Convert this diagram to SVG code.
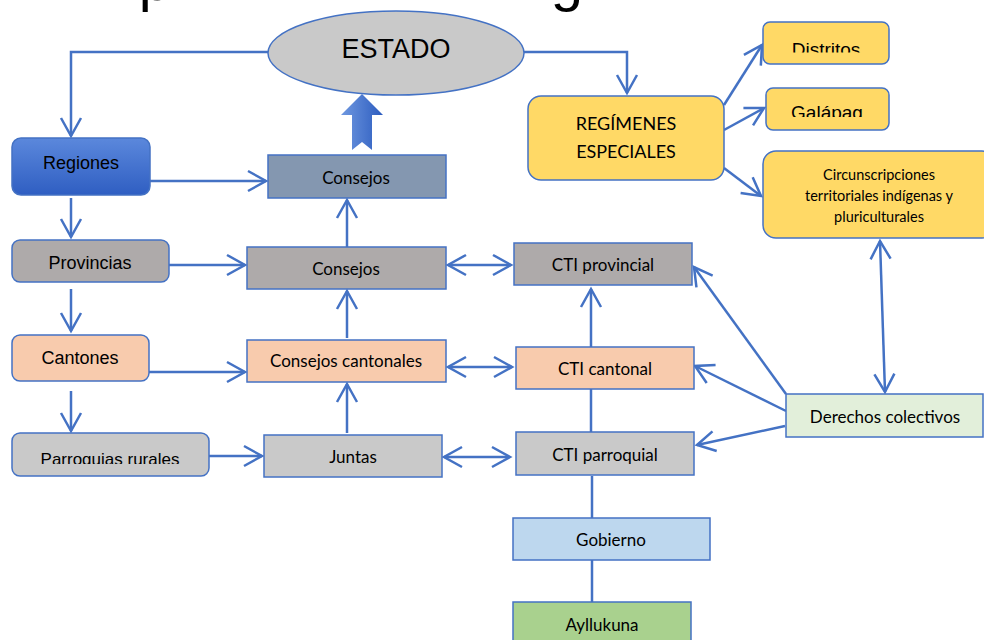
<svg xmlns="http://www.w3.org/2000/svg" width="984" height="640" viewBox="0 0 984 640">
<style>
.box{stroke:#4472c4;stroke-width:1.5}
.con{fill:none;stroke:#4472c4;stroke-width:2.5}
.a{font-family:"Liberation Sans",Arial,sans-serif;fill:#000;text-anchor:middle}
.c{font-family:Lato,"Open Sans",sans-serif;fill:#000;text-anchor:middle;font-size:17px}
.gray{fill:#aeaaaa}
.lgray{fill:#c9c9c9}
.peach{fill:#f8cbad}
.yel{fill:#ffd966}
</style>
<defs>
<marker id="arr" markerUnits="userSpaceOnUse" markerWidth="26" markerHeight="26" viewBox="-22 -13 26 26" refX="0" refY="0" orient="auto-start-reverse" overflow="visible">
<path d="M-18,-10 L0,0 L-18,10" fill="none" stroke="#4472c4" stroke-width="2.5"/>
</marker>
<linearGradient id="gReg" x1="0" y1="0" x2="0" y2="1">
<stop offset="0" stop-color="#5b88dc"/>
<stop offset="1" stop-color="#2f5ec2"/>
</linearGradient>
<linearGradient id="gArr" x1="0" y1="0" x2="1" y2="0">
<stop offset="0" stop-color="#6f98e0"/>
<stop offset="1" stop-color="#2c5cbf"/>
</linearGradient>
<clipPath id="clipParr"><rect x="0" y="430" width="220" height="34"/></clipPath>
<clipPath id="clipDis"><rect x="760" y="20" width="130" height="32.5"/></clipPath>
<clipPath id="clipGal"><rect x="760" y="86" width="130" height="31"/></clipPath>
</defs>
<rect width="984" height="640" fill="#fff"/>

<g id="title-fragments">
<text x="155" y="0" font-family="Liberation Sans,Arial,sans-serif" font-size="58" text-anchor="middle">p</text>
<text x="567" y="0" font-family="Liberation Sans,Arial,sans-serif" font-size="58" text-anchor="middle">g</text>
</g>

<g id="connectors">
<path class="con" d="M268,52 H71 V136" marker-end="url(#arr)"/>
<path class="con" d="M524,52 H627 V93" marker-end="url(#arr)"/>
<path class="con" d="M150,181 H266" marker-end="url(#arr)"/>
<path class="con" d="M71,198 V237" marker-end="url(#arr)"/>
<path class="con" d="M169,265 H245" marker-end="url(#arr)"/>
<path class="con" d="M71,289 V331" marker-end="url(#arr)"/>
<path class="con" d="M149,372 H245" marker-end="url(#arr)"/>
<path class="con" d="M71,391 V431" marker-end="url(#arr)"/>
<path class="con" d="M209,456 H262" marker-end="url(#arr)"/>
<path class="con" d="M347,247 V200" marker-end="url(#arr)"/>
<path class="con" d="M347,338 V291" marker-end="url(#arr)"/>
<path class="con" d="M347,433 V384" marker-end="url(#arr)"/>
<path class="con" d="M448,265 H511" marker-start="url(#arr)" marker-end="url(#arr)"/>
<path class="con" d="M448,367 H512" marker-start="url(#arr)" marker-end="url(#arr)"/>
<path class="con" d="M444,457 H510" marker-start="url(#arr)" marker-end="url(#arr)"/>
<path class="con" d="M591,347 V289" marker-end="url(#arr)"/>
<path class="con" d="M591,389 V432"/>
<path class="con" d="M592,476 V518"/>
<path class="con" d="M592,560 V602"/>
<path class="con" d="M786,394 L694,267" marker-end="url(#arr)"/>
<path class="con" d="M786,411 L695,366" marker-end="url(#arr)"/>
<path class="con" d="M785,426 L697,445" marker-end="url(#arr)"/>
<path class="con" d="M880,241 L885,392" marker-start="url(#arr)" marker-end="url(#arr)"/>
<path class="con" d="M724,105 L762,45" marker-end="url(#arr)"/>
<path class="con" d="M724,130 L764,108" marker-end="url(#arr)"/>
<path class="con" d="M724,168 L761,196" marker-end="url(#arr)"/>
<polygon points="362,94 383,115 372,115 372,150 362,142 352,150 352,115 341,115" fill="url(#gArr)"/>
</g>

<g id="estado">
<ellipse cx="396" cy="53" rx="128" ry="42" fill="#c9c9c9" stroke="#4472c4" stroke-width="1.5"/>
<text class="a" x="396" y="58" font-size="27">ESTADO</text>
</g>

<g id="regiones">
<rect x="12" y="138" width="138" height="57" rx="9" fill="url(#gReg)" stroke="#4472c4" stroke-width="1.5"/>
<text class="a" x="81" y="169" font-size="18">Regiones</text>
</g>

<g id="consejos-regionales">
<rect class="box" x="268" y="155" width="178" height="43" fill="#8497b0"/>
<text class="c" x="356" y="184">Consejos</text>
</g>

<g id="provincias">
<rect class="box gray" x="12" y="240" width="157" height="42" rx="8"/>
<text class="a" x="90" y="269" font-size="18">Provincias</text>
</g>

<g id="consejos-provinciales">
<rect class="box gray" x="247" y="247" width="199" height="42"/>
<text class="c" x="346" y="275">Consejos</text>
</g>

<g id="cantones">
<rect class="box peach" x="12" y="335" width="137" height="46" rx="8"/>
<text class="a" x="80" y="364" font-size="18">Cantones</text>
</g>

<g id="consejos-cantonales">
<rect class="box peach" x="247" y="340" width="199" height="42"/>
<text class="c" x="346" y="367">Consejos cantonales</text>
</g>

<g id="parroquias">
<rect class="box lgray" x="12" y="433" width="197" height="43" rx="8"/>
<text class="a" x="110" y="465" font-size="17" clip-path="url(#clipParr)">Parroquias rurales</text>
</g>

<g id="juntas">
<rect class="box lgray" x="264" y="435" width="178" height="42"/>
<text class="c" x="353" y="463">Juntas</text>
</g>

<g id="cti-provincial">
<rect class="box gray" x="514" y="243" width="178" height="42"/>
<text class="c" x="603" y="271">CTI provincial</text>
</g>

<g id="cti-cantonal">
<rect class="box peach" x="516" y="347" width="178" height="42"/>
<text class="c" x="605" y="375">CTI cantonal</text>
</g>

<g id="cti-parroquial">
<rect class="box lgray" x="516" y="432" width="178" height="43"/>
<text class="c" x="605" y="461">CTI parroquial</text>
</g>

<g id="gobierno">
<rect class="box" x="513" y="518" width="197" height="42" fill="#bdd7ee"/>
<text class="c" x="611" y="546">Gobierno</text>
</g>

<g id="ayllukuna">
<rect class="box" x="513" y="602" width="178" height="48" fill="#a9d18e"/>
<text class="c" x="602" y="631">Ayllukuna</text>
</g>

<g id="derechos">
<rect class="box" x="786" y="394" width="197" height="43" fill="#e2efda"/>
<text class="c" x="885" y="423">Derechos colectivos</text>
</g>

<g id="regimenes">
<rect class="box yel" x="528" y="96" width="196" height="84" rx="13"/>
<text class="c" x="626" y="130" font-size="18" style="font-size:18px">REGÍMENES</text>
<text class="c" x="626" y="158" style="font-size:18px">ESPECIALES</text>
</g>

<g id="distritos">
<rect class="box yel" x="763" y="22" width="126" height="42" rx="7"/>
<text class="a" x="826" y="56" font-size="19" clip-path="url(#clipDis)">Distritos</text>
</g>

<g id="galapagos">
<rect class="box yel" x="766" y="88" width="123" height="42" rx="7"/>
<text class="a" x="827" y="119" font-size="19" clip-path="url(#clipGal)">Galápag</text>
</g>

<g id="circunscripciones">
<rect class="box yel" x="763" y="151" width="232" height="87" rx="13"/>
<text class="c" x="879" y="180" style="font-size:14.5px">Circunscripciones</text>
<text class="c" x="879" y="201" style="font-size:14.5px">territoriales indígenas y</text>
<text class="c" x="879" y="222" style="font-size:14.5px">pluriculturales</text>
</g>
</svg>
